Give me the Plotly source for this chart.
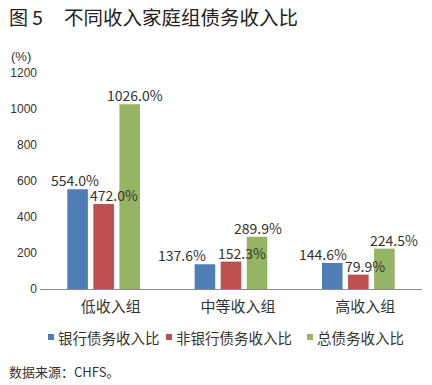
import plotly.graph_objects as go

categories = ["低收入组", "中等收入组", "高收入组"]
series_names = ["银行债务收入比", "非银行债务收入比", "总债务收入比"]
bank = [554.0, 137.6, 144.6]
nonbank = [472.0, 152.3, 79.9]
total = [1026.0, 289.9, 224.5]
colors = ["#4F7DB5", "#BE5150", "#95B564"]
y_ticks = [0, 200, 400, 600, 800, 1000, 1200]
# horizontal nudges (px) of each value label relative to its bar, per series
label_nudge = [[-1, -21, -7], [10, 11, 7], [3, -1, 8]]

L, R, T, B = 40, 10, 73, 96
W, H = 432, 385
pw, ph = W - L - R, H - T - B

def px_x(x):
    return (x - L) / pw

def px_y(y):
    return (H - B - y) / ph

fig = go.Figure()
for name, vals, col in zip(series_names, [bank, nonbank, total], colors):
    fig.add_trace(go.Bar(
        x=categories, y=vals, name=name,
        marker=dict(color=col, line=dict(width=0)),
        showlegend=False, hoverinfo="skip",
    ))

annotations = []
bar_step = 28
for si, vals in enumerate([bank, nonbank, total]):
    for ci, (cat, v) in enumerate(zip(categories, vals)):
        annotations.append(dict(
            x=cat, y=v, xref="x", yref="y", text=f"{v:.1f}%", showarrow=False,
            xanchor="center", yanchor="bottom",
            xshift=(si - 1) * bar_step + label_nudge[si][ci], yshift=-3,
            font=dict(family="Noto Sans CJK SC", size=14, color="#333333"),
        ))

annotations += [
    dict(text="图 5", xref="paper", yref="paper",
         x=px_x(7), y=px_y(16), xanchor="left", yanchor="middle", showarrow=False,
         font=dict(size=19, color="#222222", family="Noto Sans CJK SC")),
    dict(text="不同收入家庭组债务收入比", xref="paper", yref="paper",
         x=px_x(62), y=px_y(16), xanchor="left", yanchor="middle", showarrow=False,
         font=dict(size=19.5, color="#222222", family="Noto Sans CJK SC")),
    dict(text="(%)", xref="paper", yref="paper",
         x=px_x(9), y=px_y(56), xanchor="left", yanchor="middle", showarrow=False,
         font=dict(size=13, color="#333333", family="Liberation Sans")),
    dict(text="数据来源：CHFS。", xref="paper", yref="paper",
         x=px_x(7), y=px_y(371), xanchor="left", yanchor="middle", showarrow=False,
         font=dict(size=13, color="#333333", family="Noto Sans CJK SC")),
]
shapes = []
legend_sq_x = [48, 166, 307]
for name, col, sx in zip(series_names, colors, legend_sq_x):
    shapes.append(dict(type="rect", xref="paper", yref="paper",
                       x0=px_x(sx), x1=px_x(sx + 6), y0=px_y(340), y1=px_y(334),
                       fillcolor=col, line=dict(width=0)))
    annotations.append(dict(text=name, xref="paper", yref="paper",
                            x=px_x(sx + 8), y=px_y(337), xanchor="left", yanchor="middle",
                            showarrow=False,
                            font=dict(size=14.5, color="#333333", family="Noto Sans CJK SC")))

fig.update_layout(
    width=W, height=H,
    margin=dict(l=L, r=R, t=T, b=B, autoexpand=False),
    paper_bgcolor="white", plot_bgcolor="white",
    barmode="group", bargap=0.386, bargroupgap=0.21,
    font=dict(family="Noto Sans CJK SC", color="#333333"),
    showlegend=False, hovermode=False,
    xaxis=dict(showline=True, linecolor="#8c8c8c", linewidth=1, ticks="",
               tickfont=dict(size=15, color="#333333"), ticklabelshift=7,
               ticklabelstandoff=4),
    yaxis=dict(range=[0, 1200], tickvals=y_ticks, showgrid=False, zeroline=False,
               showline=False,
               tickfont=dict(family="Liberation Sans Narrow, Liberation Sans", size=12, color="#333333"),
               ticklabelstandoff=2),
    annotations=annotations,
    shapes=shapes,
)

fig.write_html("out.html", config={"displayModeBar": False},
               post_script="document.body.style.margin='0';document.body.style.overflow='hidden';")
